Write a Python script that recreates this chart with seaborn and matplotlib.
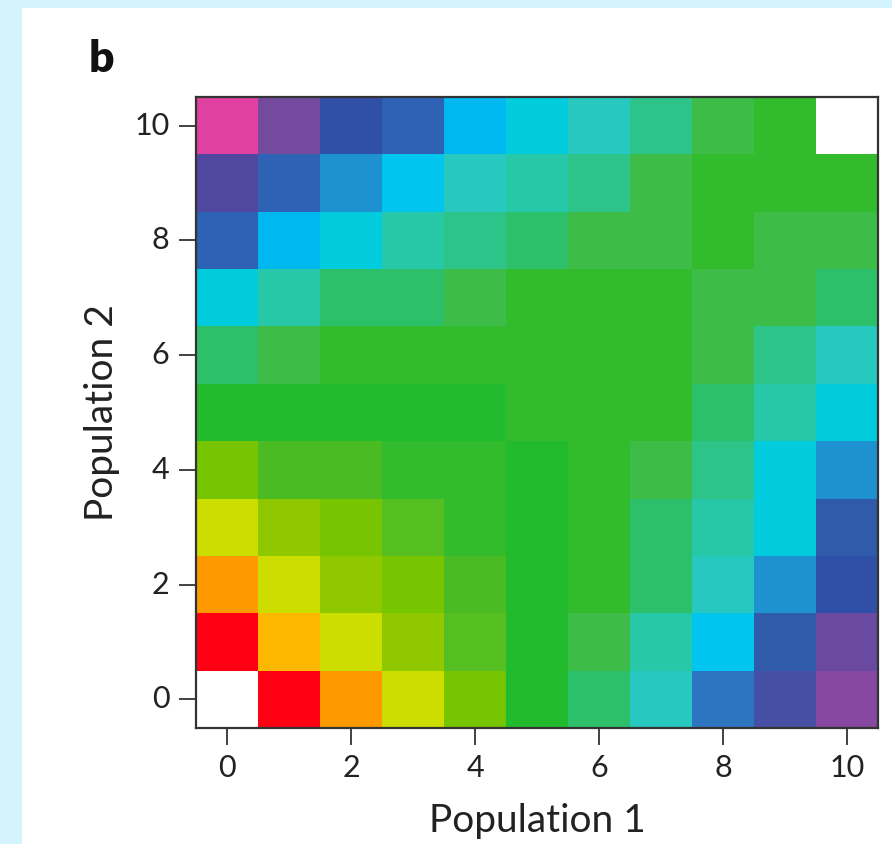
import numpy as np
import pandas as pd
import seaborn as sns
import matplotlib.pyplot as plt
from matplotlib.colors import ListedColormap
from matplotlib.patches import Rectangle

# Cores discretas do mapa (niveis 0..28, do vermelho ao rosa)
paleta = [
    '#FF0012', '#FF9900', '#FFB800', '#CCDD00', '#90C800', '#77C400',
    '#55BF22', '#4ABB22', '#22BB2E', '#33BB2E', '#3DBD48', '#2DC06A',
    '#2DC48A', '#26C8A8', '#26C8C0', '#00CCDD', '#00C5EE', '#00B8F0',
    '#1E92D0', '#2D75C0', '#2D62B5', '#2F5BAA', '#3050A8', '#4550A5',
    '#5048A0', '#6A4AA0', '#744A9E', '#8648A0', '#E040A0',
]

populacao_1 = list(range(11))
populacao_2 = list(range(10, -1, -1))  # linhas de cima para baixo

N = np.nan
# nivel de cor de cada celula; linha 0 = Population 2 = 10
niveis = [
    [28, 26, 22, 20, 17, 15, 14, 12, 10, 9, N],
    [24, 20, 18, 16, 14, 13, 12, 10, 9, 9, 9],
    [20, 17, 15, 13, 12, 11, 10, 10, 9, 10, 10],
    [15, 13, 11, 11, 10, 9, 9, 9, 10, 10, 11],
    [11, 10, 9, 9, 9, 9, 9, 9, 10, 12, 14],
    [8, 8, 8, 8, 8, 9, 9, 9, 11, 13, 15],
    [5, 7, 7, 9, 9, 8, 9, 10, 12, 15, 18],
    [3, 4, 5, 6, 9, 8, 9, 11, 13, 15, 21],
    [1, 3, 4, 5, 7, 8, 9, 11, 14, 18, 22],
    [0, 2, 3, 4, 6, 8, 10, 13, 16, 21, 25],
    [N, 0, 1, 3, 5, 8, 11, 14, 19, 23, 27],
]

ticks = [0, 2, 4, 6, 8, 10]

df = pd.DataFrame(niveis, index=populacao_2, columns=populacao_1)

sns.set_style('white')
plt.rcParams['font.family'] = ['Lato', 'DejaVu Sans']

fig = plt.figure(figsize=(8.92, 8.44), dpi=100, facecolor='#D3F4FC')
fig.patches.append(Rectangle((22 / 892, 0), 1, 1 - 8 / 844, transform=fig.transFigure,
                             facecolor='white', edgecolor='none', zorder=-5))

ax = fig.add_axes([196 / 892, 1 - 728 / 844, 682 / 892, 631 / 844])
ax.set_facecolor('white')
sns.heatmap(df, cmap=ListedColormap(paleta), vmin=-0.5, vmax=len(paleta) - 0.5,
            mask=df.isna(), cbar=False, ax=ax)

for s in ax.spines.values():
    s.set_visible(True)
    s.set_color('#333333')
    s.set_linewidth(1.6)

ax.set_xticks([populacao_1.index(t) + 0.5 for t in ticks])
ax.set_xticklabels([str(t) for t in ticks], rotation=0)
ax.set_yticks([populacao_2.index(t) + 0.5 for t in ticks])
ax.set_yticklabels([str(t) for t in ticks], rotation=0)
ax.tick_params(axis='both', which='major', direction='out', length=12, width=1.3,
               color='#333333', labelcolor='#222222', labelsize=22, pad=7,
               bottom=True, left=True)

ax.set_xlabel('Population 1', fontsize=28, color='#222222', labelpad=15)
ax.set_ylabel('Population 2', fontsize=28, color='#222222', labelpad=10)

fig.text(89 / 892, 1 - 72 / 844, 'b', fontsize=32, fontweight='heavy', color='#111111')

plt.savefig('out.png', dpi=100, facecolor=fig.get_facecolor())
